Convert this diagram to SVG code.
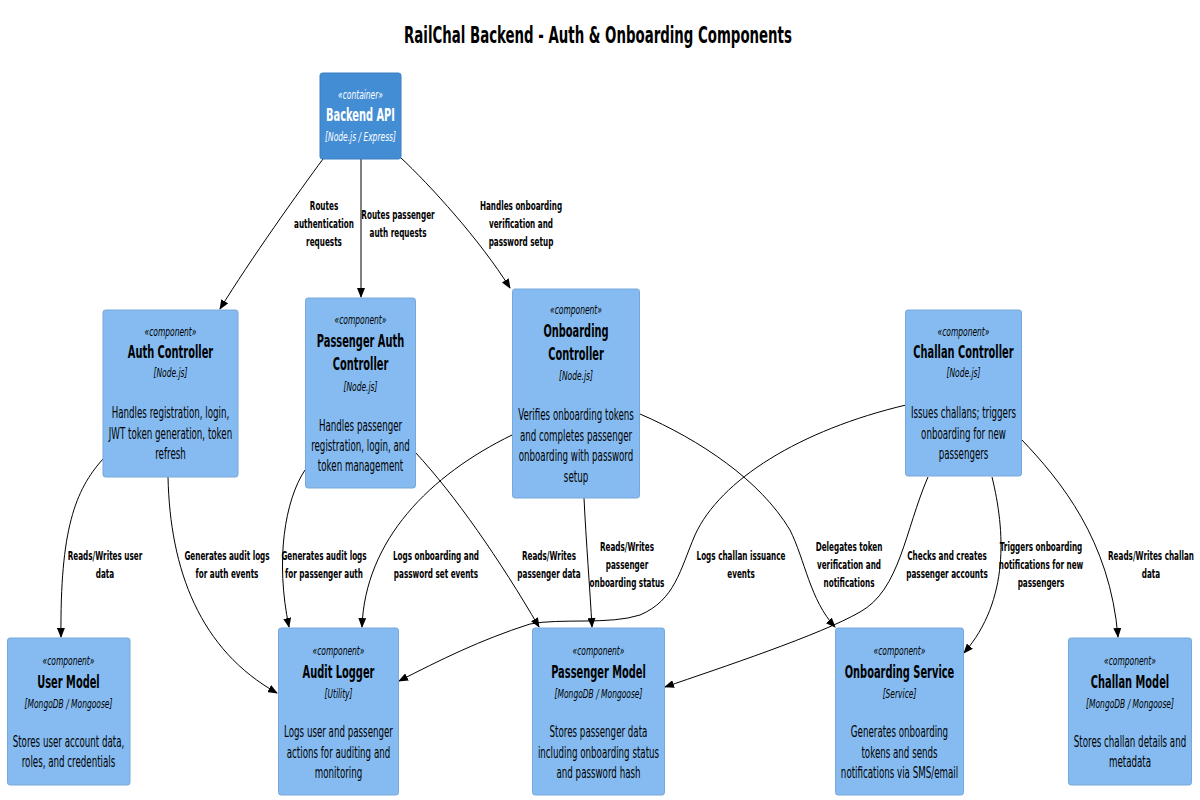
<svg xmlns="http://www.w3.org/2000/svg" width="1200" height="800" viewBox="0 0 1200 800">
<style>
text { font-family: "DejaVu Sans", "Liberation Sans", sans-serif; text-anchor: middle; fill: #000; }
.ttl { font-size: 23px; font-weight: bold; }
.st { font-size: 13px; font-style: italic; }
.nm { font-size: 17px; font-weight: bold; }
.tc { font-size: 13px; font-style: italic; }
.ds { font-size: 15px; }
.lb { font-size: 12.5px; font-weight: bold; }
.w { fill: #fff; }
.comp { fill: #85BBF0; stroke: #78A8D8; stroke-width: 1; }
.cont { fill: #438DD5; stroke: #3C7FC0; stroke-width: 1; }
.edge { fill: none; stroke: #000; stroke-width: 1; marker-end: url(#arr); }
</style>
<defs>
<marker id="arr" markerUnits="userSpaceOnUse" markerWidth="10" markerHeight="8" refX="9" refY="4" orient="auto">
<path d="M0,0 L10,4 L0,8 z" fill="#000"/>
</marker>
</defs>
<rect width="1200" height="800" fill="#fff"/>
<text class="ttl" transform="matrix(0.58 0 0 1 598 0)" x="0" y="43">RailChal Backend - Auth &amp; Onboarding Components</text>

<g id="connectors">
<path class="edge" d="M323,159 C300,190 250,260 220,309"/>
<path class="edge" d="M361,159 L361,297"/>
<path class="edge" d="M400,157 C430,185 480,240 510,288"/>
<path class="edge" d="M103,459 C75,490 60,530 61,637"/>
<path class="edge" d="M168,477 C170,570 200,650 277,693"/>
<path class="edge" d="M305,470 C285,500 275,560 289,627"/>
<path class="edge" d="M512,435 C430,475 365,540 362,627"/>
<path class="edge" d="M415,452 C455,495 500,560 539,627"/>
<path class="edge" d="M584,498 C586,540 590,590 592,627"/>
<path class="edge" d="M906,405 C800,430 720,480 695,535 C680,570 675,600 640,615 C610,625 560,618 530,624 C480,640 440,660 399,681"/>
<path class="edge" d="M640,414 C700,440 760,480 790,530 C805,560 810,600 835,627"/>
<path class="edge" d="M928,477 C905,530 900,590 860,612 C820,635 720,668 665,687"/>
<path class="edge" d="M992,477 C1005,530 1010,600 964,653"/>
<path class="edge" d="M1022,440 C1060,480 1110,540 1118,637"/>

<text class="lb" transform="matrix(0.58 0 0 1 324 0)"><tspan x="0" y="210">Routes</tspan><tspan x="0" y="228">authentication</tspan><tspan x="0" y="246">requests</tspan></text>
<text class="lb" transform="matrix(0.58 0 0 1 398 0)"><tspan x="0" y="219">Routes passenger</tspan><tspan x="0" y="237">auth requests</tspan></text>
<text class="lb" transform="matrix(0.58 0 0 1 521 0)"><tspan x="0" y="210">Handles onboarding</tspan><tspan x="0" y="228">verification and</tspan><tspan x="0" y="246">password setup</tspan></text>
<text class="lb" transform="matrix(0.58 0 0 1 105 0)"><tspan x="0" y="560">Reads/Writes user</tspan><tspan x="0" y="578">data</tspan></text>
<text class="lb" transform="matrix(0.58 0 0 1 227 0)"><tspan x="0" y="560">Generates audit logs</tspan><tspan x="0" y="578">for auth events</tspan></text>
<text class="lb" transform="matrix(0.58 0 0 1 324 0)"><tspan x="0" y="560">Generates audit logs</tspan><tspan x="0" y="578">for passenger auth</tspan></text>
<text class="lb" transform="matrix(0.58 0 0 1 436 0)"><tspan x="0" y="560">Logs onboarding and</tspan><tspan x="0" y="578">password set events</tspan></text>
<text class="lb" transform="matrix(0.58 0 0 1 549 0)"><tspan x="0" y="560">Reads/Writes</tspan><tspan x="0" y="578">passenger data</tspan></text>
<text class="lb" transform="matrix(0.58 0 0 1 627 0)"><tspan x="0" y="551">Reads/Writes</tspan><tspan x="0" y="569">passenger</tspan><tspan x="0" y="587">onboarding status</tspan></text>
<text class="lb" transform="matrix(0.58 0 0 1 741 0)"><tspan x="0" y="560">Logs challan issuance</tspan><tspan x="0" y="578">events</tspan></text>
<text class="lb" transform="matrix(0.58 0 0 1 849 0)"><tspan x="0" y="551">Delegates token</tspan><tspan x="0" y="569">verification and</tspan><tspan x="0" y="587">notifications</tspan></text>
<text class="lb" transform="matrix(0.58 0 0 1 947 0)"><tspan x="0" y="560">Checks and creates</tspan><tspan x="0" y="578">passenger accounts</tspan></text>
<text class="lb" transform="matrix(0.58 0 0 1 1041 0)"><tspan x="0" y="551">Triggers onboarding</tspan><tspan x="0" y="569">notifications for new</tspan><tspan x="0" y="587">passengers</tspan></text>
<text class="lb" transform="matrix(0.58 0 0 1 1151 0)"><tspan x="0" y="560">Reads/Writes challan</tspan><tspan x="0" y="578">data</tspan></text>
</g>

<g id="backend-api">
<rect class="cont" x="320" y="73" width="81" height="86" rx="2.5"/>
<g transform="matrix(0.58 0 0 1 360.5 0)">
<text class="st w" x="0" y="99">«container»</text>
<text class="nm w" x="0" y="121">Backend API</text>
<text class="tc w" x="0" y="141">[Node.js / Express]</text>
</g>
</g>

<g id="auth-controller">
<rect class="comp" x="103" y="310" width="135" height="167" rx="2.5"/>
<g transform="matrix(0.58 0 0 1 170.5 0)">
<text class="st" x="0" y="336">«component»</text>
<text class="nm" x="0" y="358">Auth Controller</text>
<text class="tc" x="0" y="377">[Node.js]</text>
<text class="ds" x="0" y="418">Handles registration, login,</text>
<text class="ds" x="0" y="439">JWT token generation, token</text>
<text class="ds" x="0" y="459">refresh</text>
</g>
</g>

<g id="passenger-auth-controller">
<rect class="comp" x="305.5" y="298" width="110" height="190" rx="2.5"/>
<g transform="matrix(0.58 0 0 1 360.5 0)">
<text class="st" x="0" y="324">«component»</text>
<text class="nm" x="0" y="347">Passenger Auth</text>
<text class="nm" x="0" y="370">Controller</text>
<text class="tc" x="0" y="391">[Node.js]</text>
<text class="ds" x="0" y="431">Handles passenger</text>
<text class="ds" x="0" y="451">registration, login, and</text>
<text class="ds" x="0" y="471">token management</text>
</g>
</g>

<g id="onboarding-controller">
<rect class="comp" x="512.5" y="289" width="127" height="209" rx="2.5"/>
<g transform="matrix(0.58 0 0 1 576 0)">
<text class="st" x="0" y="314">«component»</text>
<text class="nm" x="0" y="337">Onboarding</text>
<text class="nm" x="0" y="360">Controller</text>
<text class="tc" x="0" y="380">[Node.js]</text>
<text class="ds" x="0" y="420">Verifies onboarding tokens</text>
<text class="ds" x="0" y="441">and completes passenger</text>
<text class="ds" x="0" y="461">onboarding with password</text>
<text class="ds" x="0" y="482">setup</text>
</g>
</g>

<g id="challan-controller">
<rect class="comp" x="905.5" y="310" width="116" height="166" rx="2.5"/>
<g transform="matrix(0.58 0 0 1 963.5 0)">
<text class="st" x="0" y="336">«component»</text>
<text class="nm" x="0" y="358">Challan Controller</text>
<text class="tc" x="0" y="377">[Node.js]</text>
<text class="ds" x="0" y="418">Issues challans; triggers</text>
<text class="ds" x="0" y="439">onboarding for new</text>
<text class="ds" x="0" y="459">passengers</text>
</g>
</g>

<g id="user-model">
<rect class="comp" x="7.5" y="638" width="122.5" height="147" rx="2.5"/>
<g transform="matrix(0.58 0 0 1 68.5 0)">
<text class="st" x="0" y="665">«component»</text>
<text class="nm" x="0" y="688">User Model</text>
<text class="tc" x="0" y="708">[MongoDB / Mongoose]</text>
<text class="ds" x="0" y="747">Stores user account data,</text>
<text class="ds" x="0" y="767">roles, and credentials</text>
</g>
</g>

<g id="audit-logger">
<rect class="comp" x="278.5" y="628" width="120" height="167" rx="2.5"/>
<g transform="matrix(0.58 0 0 1 338.5 0)">
<text class="st" x="0" y="655">«component»</text>
<text class="nm" x="0" y="678">Audit Logger</text>
<text class="tc" x="0" y="698">[Utility]</text>
<text class="ds" x="0" y="737">Logs user and passenger</text>
<text class="ds" x="0" y="758">actions for auditing and</text>
<text class="ds" x="0" y="778">monitoring</text>
</g>
</g>

<g id="passenger-model">
<rect class="comp" x="532.5" y="628" width="132" height="167" rx="2.5"/>
<g transform="matrix(0.58 0 0 1 598.5 0)">
<text class="st" x="0" y="655">«component»</text>
<text class="nm" x="0" y="678">Passenger Model</text>
<text class="tc" x="0" y="698">[MongoDB / Mongoose]</text>
<text class="ds" x="0" y="737">Stores passenger data</text>
<text class="ds" x="0" y="758">including onboarding status</text>
<text class="ds" x="0" y="778">and password hash</text>
</g>
</g>

<g id="onboarding-service">
<rect class="comp" x="835.5" y="628" width="128" height="167" rx="2.5"/>
<g transform="matrix(0.58 0 0 1 899.5 0)">
<text class="st" x="0" y="655">«component»</text>
<text class="nm" x="0" y="678">Onboarding Service</text>
<text class="tc" x="0" y="698">[Service]</text>
<text class="ds" x="0" y="737">Generates onboarding</text>
<text class="ds" x="0" y="758">tokens and sends</text>
<text class="ds" x="0" y="778">notifications via SMS/email</text>
</g>
</g>

<g id="challan-model">
<rect class="comp" x="1068.5" y="638" width="123" height="147" rx="2.5"/>
<g transform="matrix(0.58 0 0 1 1130 0)">
<text class="st" x="0" y="665">«component»</text>
<text class="nm" x="0" y="688">Challan Model</text>
<text class="tc" x="0" y="708">[MongoDB / Mongoose]</text>
<text class="ds" x="0" y="747">Stores challan details and</text>
<text class="ds" x="0" y="767">metadata</text>
</g>
</g>
</svg>
